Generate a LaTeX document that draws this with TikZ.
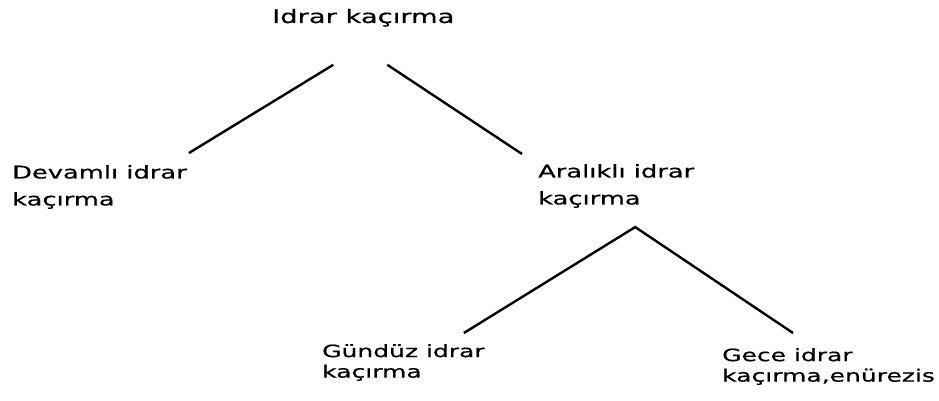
\documentclass[tikz,border=0pt]{standalone}
\usepackage{fontspec}
\setmainfont{DejaVu Sans}[FakeStretch=1.47,FakeBold=0.6]
\usepackage{tikz}
\usetikzlibrary{positioning,calc}
\tikzset{
  termnode/.style={
    inner sep=0pt, align=left, anchor=north west,
    font=\fontsize{17.5}{27}\selectfont
  },
  leafnode/.style={
    termnode, font=\fontsize{17}{20.5}\selectfont
  },
  rootnode/.style={
    inner sep=0pt, anchor=base west,
    font=\fontsize{18.6}{24}\selectfont
  },
  branch/.style={
    line width=2.4pt, color=black
  },
}
\begin{document}
\begin{tikzpicture}[x=1pt, y=-1pt]
\useasboundingbox (0,0) rectangle (939,401);

% Root and first level
\node[rootnode] (root) at (272,23) {Idrar kaçırma};
\node[termnode] (devamli) at (12,165) {Devamlı idrar\\kaçırma};
\node[termnode] (aralikli) at (538,164) {Aralıklı idrar\\kaçırma};

\draw[branch] ([xshift=-30pt,yshift=-38pt]root.south) -- ([xshift=2pt,yshift=12pt]devamli.north east);
\draw[branch] ([xshift=24pt,yshift=-38pt]root.south) -- ([xshift=-16pt,yshift=10pt]aralikli.north west);

% Second level
\node[leafnode] (gunduz) at (322,344) {Gündüz idrar\\kaçırma};
\node[leafnode] (gece) at (722,348) {Gece idrar\\kaçırma,enürezis};

\draw[branch] ([xshift=-21pt,yshift=11pt]gunduz.north east)
  -- ([xshift=19pt,yshift=-19pt]aralikli.south)
  -- ([xshift=71pt,yshift=15pt]gece.north west);

\end{tikzpicture}
\end{document}
